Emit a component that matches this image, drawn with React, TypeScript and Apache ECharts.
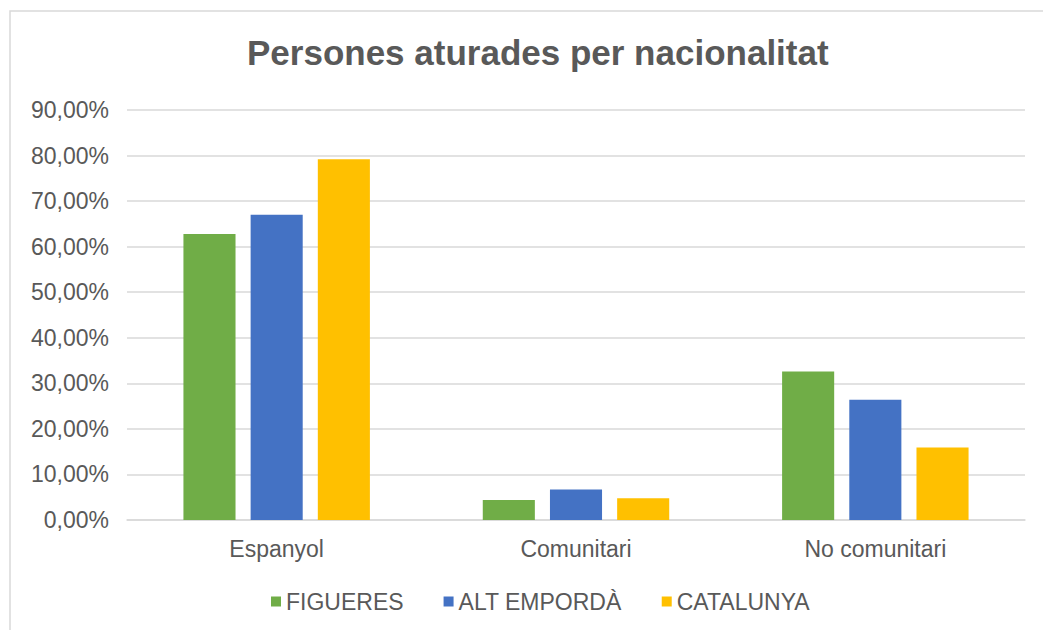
import React, { useEffect, useRef } from "react";
import * as echarts from "echarts";

const categories = ["Espanyol", "Comunitari", "No comunitari"];
const figueres = [62.8, 4.4, 32.6];
const altEmporda = [67.0, 6.7, 26.4];
const catalunya = [79.2, 4.8, 15.9];
const seriesNames = ["FIGUERES", "ALT EMPORDÀ", "CATALUNYA"];
const colors = ["#70AD47", "#4472C4", "#FFC000"];

export default function App() {
  const ref = useRef<HTMLDivElement>(null);
  useEffect(() => {
    const chart = echarts.init(ref.current!, null, { renderer: "svg" });
    const data = [figueres, altEmporda, catalunya];
    chart.setOption({
      animation: false,
      backgroundColor: "#ffffff",
      textStyle: { fontFamily: "Liberation Sans, Arial, sans-serif" },
      graphic: [
        {
          type: "rect",
          shape: { x: 10, y: 11, width: 1100, height: 700 },
          style: { fill: "none", stroke: "#d9d9d9", lineWidth: 1.5 },
          silent: true,
        },
      ],
      title: {
        text: "Persones aturades per nacionalitat",
        left: 242,
        top: 30,
        textStyle: {
          fontSize: 35,
          fontWeight: "bold",
          color: "#595959",
          fontFamily: "Liberation Sans, Arial, sans-serif",
        },
      },
      legend: {
        top: 585,
        left: 266,
        itemWidth: 10,
        itemHeight: 10,
        itemGap: 40,
        icon: "rect",
        textStyle: { fontSize: 23, color: "#595959" },
        data: seriesNames,
      },
      grid: { left: 127, right: 18, top: 110, bottom: 110, containLabel: false },
      xAxis: {
        type: "category",
        data: categories,
        axisLine: { lineStyle: { color: "#d9d9d9", width: 1.5 } },
        axisTick: { show: false },
        axisLabel: { fontSize: 23, color: "#595959", margin: 17 },
      },
      yAxis: {
        type: "value",
        min: 0,
        max: 90,
        interval: 10,
        axisLine: { show: false },
        axisTick: { show: false },
        splitLine: { lineStyle: { color: "#d9d9d9", width: 1.5 } },
        axisLabel: {
          fontSize: 23,
          color: "#595959",
          margin: 18,
          formatter: (v: number) => v.toFixed(2).replace(".", ",") + "%",
        },
      },
      series: seriesNames.map((name, i) => ({
        name,
        type: "bar",
        data: data[i],
        barWidth: "17.4%",
        barGap: "29%",
        itemStyle: { color: colors[i] },
      })),
    });
    return () => chart.dispose();
  }, []);
  return (
    <div
      ref={ref}
      style={{ position: "fixed", left: 0, top: 0, width: 1043, height: 630 }}
    />
  );
}
